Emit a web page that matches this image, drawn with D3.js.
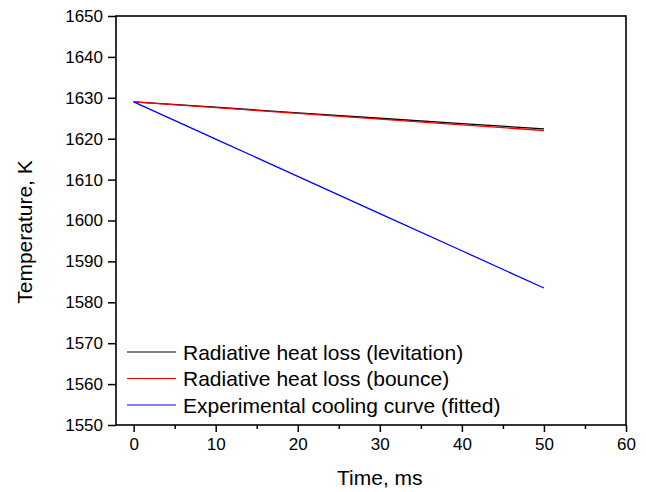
<!DOCTYPE html>
<html>
<head>
<meta charset="utf-8">
<script src="https://cdn.jsdelivr.net/npm/d3@7"></script>
<style>
  body { margin: 0; background: #fff; }
  text { font-family: "Liberation Sans", Arial, sans-serif; fill: #000; }
</style>
</head>
<body>
<div id="chart"></div>
<script>
// data
var timeMs = [0, 10, 20, 30, 40, 50];
var levitation = [1629, 1627.7, 1626.3, 1625.0, 1623.7, 1622.4];
var bounce = [1629, 1627.6, 1626.2, 1624.8, 1623.4, 1622.0];
var fitted = [1629, 1619.9, 1610.8, 1601.7, 1592.6, 1583.5];
var seriesNames = ["Radiative heat loss (levitation)", "Radiative heat loss (bounce)", "Experimental cooling curve (fitted)"];
var seriesColors = ["#000000", "#ff0000", "#0000ff"];
var xTicks = [0, 10, 20, 30, 40, 50, 60];
var yTicks = [1550, 1560, 1570, 1580, 1590, 1600, 1610, 1620, 1630, 1640, 1650];

var svgWidth = 646;
var svgHeight = 492;
var margin = { top: 16, bottom: 67, left: 116, right: 20 };
var width = svgWidth - margin.left - margin.right;
var height = svgHeight - margin.top - margin.bottom;

var svg = d3.select("#chart")
  .append("svg")
  .attr("width", svgWidth)
  .attr("height", svgHeight);

var chartGroup = svg.append("g")
  .attr("transform", `translate(${margin.left}, ${margin.top})`);

var x = d3.scaleLinear().domain([-2.15, 60]).range([0, width]);
var y = d3.scaleLinear().domain([1550, 1650]).range([height, 0]);

// minor ticks on x
chartGroup.append("g")
  .attr("transform", `translate(0, ${height})`)
  .call(d3.axisBottom(x).tickValues([5, 15, 25, 35, 45, 55]).tickSize(4).tickFormat(""))
  .call(g => g.select(".domain").remove())
  .selectAll("line").attr("stroke-width", 1.5);

var xAxis = chartGroup.append("g")
  .attr("transform", `translate(0, ${height})`)
  .call(d3.axisBottom(x).tickValues(xTicks).tickSize(7).tickPadding(6).tickFormat(d3.format("d")));
xAxis.selectAll("text").attr("font-size", "17px");

var yAxis = chartGroup.append("g")
  .call(d3.axisLeft(y).tickValues(yTicks).tickSize(8).tickPadding(5).tickFormat(d3.format("d")));
yAxis.selectAll("text").attr("font-size", "17px");

[xAxis, yAxis].forEach(a => {
  a.selectAll("line").attr("stroke-width", 1.5);
  a.select(".domain").remove();
});

// frame
chartGroup.append("rect")
  .attr("width", width)
  .attr("height", height)
  .attr("fill", "none")
  .attr("stroke", "#000")
  .attr("stroke-width", 1.6);

// lines
var line = d3.line()
  .x((d, i) => x(timeMs[i]))
  .y(d => y(d));

[levitation, bounce, fitted].forEach(function (vals, i) {
  chartGroup.append("path")
    .datum(vals)
    .attr("d", line)
    .attr("fill", "none")
    .attr("stroke", seriesColors[i])
    .attr("stroke-width", 1.3);
});

// legend
var legend = chartGroup.selectAll(".legend")
  .data(seriesNames)
  .enter()
  .append("g")
  .attr("transform", (d, i) => `translate(${127 - margin.left}, ${352 - margin.top + i * 26.5})`);

legend.append("line")
  .attr("x1", 0).attr("x2", 49)
  .attr("stroke", (d, i) => seriesColors[i])
  .attr("stroke-width", 1.2);

legend.append("text")
  .attr("x", 56)
  .attr("y", 7.5)
  .attr("font-size", "21px")
  .text(d => d);

// axis titles
svg.append("text")
  .attr("x", margin.left + x(30))
  .attr("y", 485)
  .attr("text-anchor", "middle")
  .attr("font-size", "21px")
  .text("Time, ms");

svg.append("text")
  .attr("transform", `translate(32, 232) rotate(-90)`)
  .attr("text-anchor", "middle")
  .attr("font-size", "21px")
  .text("Temperature, K");
</script>
</body>
</html>
